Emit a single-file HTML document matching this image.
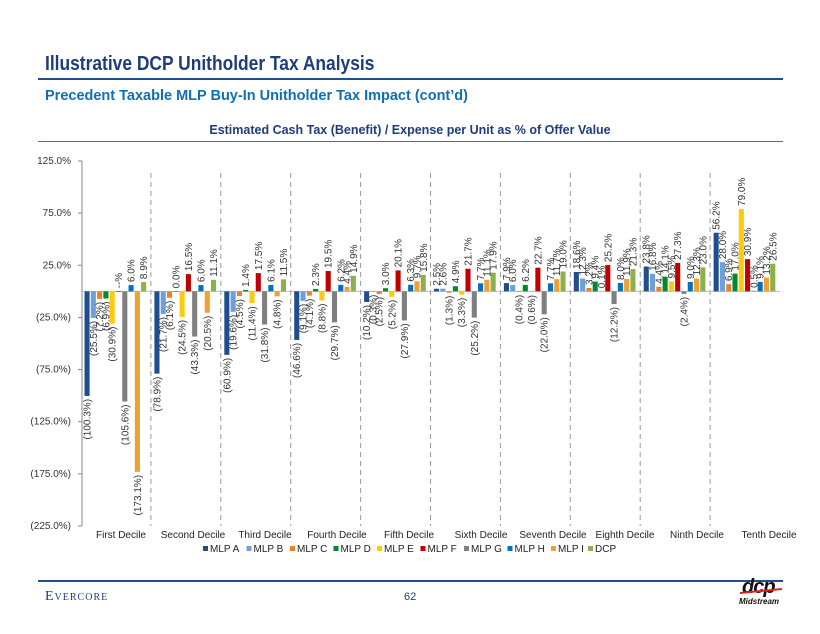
<!DOCTYPE html>
<html><head><meta charset="utf-8">
<style>
body{margin:0;background:#fff;font-family:"Liberation Sans",Arial,sans-serif;}
#page{position:relative;width:820px;height:634px;overflow:hidden;background:#fff;}
.t{position:absolute;white-space:nowrap;}
</style></head>
<body>
<div id="page">
<div class="t" style="left:45px;top:53px;font-size:20px;font-weight:bold;color:#1F3D7A;transform:scaleX(0.87);transform-origin:0 0;">Illustrative DCP Unitholder Tax Analysis</div>
<div style="position:absolute;left:38px;top:78px;width:745px;height:2px;background:#1F4E89;"></div>
<div class="t" style="left:45px;top:88px;font-size:14.5px;font-weight:bold;color:#0F6FB5;">Precedent Taxable MLP Buy-In Unitholder Tax Impact (cont’d)</div>
<div class="t" style="left:0;width:820px;text-align:center;top:123px;font-size:12.5px;font-weight:bold;color:#1F3D7A;">Estimated Cash Tax (Benefit) / Expense per Unit as % of Offer Value</div>
<div style="position:absolute;left:38px;top:141px;width:745px;height:1px;background:#4A6FA5;"></div>
<svg id="chart" width="820" height="634" style="position:absolute;left:0;top:0;"></svg>
<div style="position:absolute;left:38px;top:580px;width:745px;height:2px;background:#1F4E89;"></div>
<div class="t" style="left:45px;top:589px;font-family:'Liberation Serif',serif;font-size:14px;color:#1F3D7A;font-variant:small-caps;letter-spacing:1px;">Evercore</div>
<div class="t" style="left:404px;top:591px;font-size:11px;color:#1F3D7A;">62</div>
<div style="position:absolute;left:738px;top:582px;width:46px;height:26px;">
<div class="t" style="left:4px;top:-6px;font-size:20px;font-weight:bold;font-style:italic;color:#111;letter-spacing:-1px;">dcp</div>
<svg width="46" height="26" style="position:absolute;left:0;top:0"><path d="M2 10 L44 6 L44 8 L2 12 Z" fill="#D9261C"/></svg>
<div class="t" style="left:1px;top:15px;font-size:8px;font-weight:bold;font-style:italic;color:#111;">Midstream</div>
</div>
</div>
<script>
const categories=["First Decile","Second Decile","Third Decile","Fourth Decile","Fifth Decile","Sixth Decile","Seventh Decile","Eighth Decile","Ninth Decile","Tenth Decile"];
const seriesNames=["MLP A","MLP B","MLP C","MLP D","MLP E","MLP F","MLP G","MLP H","MLP I","DCP"];
const mlpA=[-100.3,-78.9,-60.9,-46.6,-10.2,2.5,7.9,18.6,23.8,56.2];
const mlpB=[-25.5,-21.7,-19.6,-9.1,-0.3,2.6,6.0,12.3,16.8,28.0];
const mlpC=[-7.2,-6.1,-4.5,-4.1,-2.5,-1.3,-0.4,3.2,4.4,6.9];
const mlpD=[-6.9,0.0,1.4,2.3,3.0,4.9,6.2,9.4,14.1,17.0];
const mlpE=[-30.9,-24.5,-11.4,-8.8,-5.2,-3.3,-0.6,0.1,9.5,79.0];
const mlpF=[null,16.5,17.5,19.5,20.1,21.7,22.7,25.2,27.3,30.9];
const mlpG=[-105.6,-43.3,-31.8,-29.7,-27.9,-25.2,-22.0,-12.2,-2.4,0.5];
const mlpH=[6.0,6.0,6.1,6.2,6.3,7.7,7.7,8.0,9.0,9.1];
const mlpI=[-173.1,-20.5,-4.8,4.4,9.7,11.1,11.7,11.9,12.3,13.2];
const dcp=[8.9,11.1,11.5,14.9,15.8,17.9,19.0,21.3,23.0,26.5];
const yTicks=[125,75,25,-25,-75,-125,-175,-225];
const yTickLabels=["125.0%","75.0%","25.0%","(25.0%)","(75.0%)","(125.0%)","(175.0%)","(225.0%)"];

const series=[mlpA,mlpB,mlpC,mlpD,mlpE,mlpF,mlpG,mlpH,mlpI,dcp];
const colors=["#1F4E8C","#6F9FD8","#ED7D31","#008A2E","#FFC90E","#C00000","#7F7F7F","#0070C0","#F0A030","#8DB04A"];
const NS="http://www.w3.org/2000/svg";
const svg=document.getElementById('chart');
const plotL=81,plotR=780,yTop=161,yBot=526,vMax=125,vMin=-225;
const groupW=(plotR-plotL)/categories.length;
function y(v){return yTop+(vMax-v)/(vMax-vMin)*(yBot-yTop);}
function xg(i){return plotL+i*groupW;}
function mk(t,a){const e=document.createElementNS(NS,t);for(const k in a)e.setAttribute(k,a[k]);svg.appendChild(e);return e;}
function fmt(v){if(v===null)return "--%";return v<0?"("+Math.abs(v).toFixed(1)+"%)":v.toFixed(1)+"%";}

let ax=mk('line',{x1:plotL+1,y1:yTop,x2:plotL+1,y2:yBot,stroke:'#888','stroke-width':1});


yTicks.forEach((t,k)=>{
  let tk=mk('line',{x1:plotL-3,y1:y(t),x2:plotL+1,y2:y(t),stroke:'#888'});
  
  
  let tx=mk('text',{x:plotL-10,y:y(t)+3,'text-anchor':'end','font-size':10,fill:'#333','font-family':'Liberation Sans, sans-serif'});
  tx.textContent=yTickLabels[k];
  
  
});
for(let i=1;i<categories.length;i++){
  let d=mk('line',{x1:xg(i),y1:yTop+12,x2:xg(i),y2:yBot,stroke:'#999','stroke-dasharray':'5,4','stroke-width':1});
  
  
}
let zl=mk('line',{x1:plotL+1,y1:y(0),x2:plotR,y2:y(0),stroke:'#bbb','stroke-width':1});



const pad=3.5,step=(groupW-2*pad)/series.length,bw=step-1.2;
categories.forEach((c,i)=>{
  series.forEach((s,j)=>{
    const v=s[i];
    const bx=xg(i)+pad+j*step;
    const vv=v===null?0:v;
    const y0=y(0),y1=y(vv);
    const r=mk('rect',{x:bx,y:Math.min(y0,y1),width:bw,height:Math.max(Math.abs(y1-y0),0.5),fill:colors[j]});
    
    
    const cx=bx+bw/2+3.5;
    let lab;
    if(vv>=0){lab=mk('text',{x:cx,y:y1-3,transform:'rotate(-90 '+cx+' '+(y1-3)+')','text-anchor':'start'});}
    else{lab=mk('text',{x:cx,y:y1+3,transform:'rotate(-90 '+cx+' '+(y1+3)+')','text-anchor':'end'});}
    lab.setAttribute('font-size','10');
    lab.setAttribute('fill','#333');
    lab.setAttribute('font-family','Liberation Sans, sans-serif');
    lab.textContent=fmt(v);
    
    
  });
  const cl=mk('text',{x:121+i*72,y:538,'text-anchor':'middle','font-size':10,fill:'#222','font-family':'Liberation Sans, sans-serif'});
  cl.textContent=c;
  
  
});
let lx=203;
seriesNames.forEach((n,j)=>{
  const sq=mk('rect',{x:lx,y:546,width:5,height:5,fill:colors[j]});
  
  
  const t=mk('text',{x:lx+7,y:552,'font-size':10,fill:'#222','font-family':'Liberation Sans, sans-serif'});
  t.textContent=n;
  
  
  lx+=n==="DCP"?30:(n==="MLP I"?37:43.5);
});
</script>
</body></html>
